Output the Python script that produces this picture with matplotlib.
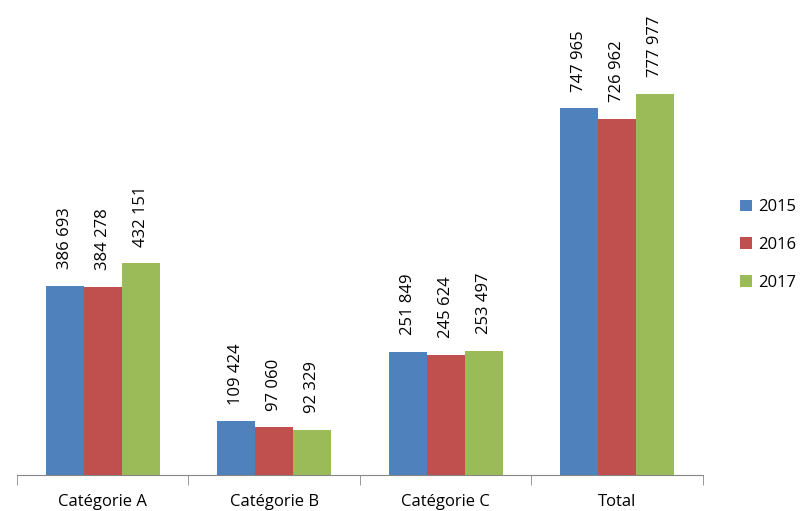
import numpy as np
import matplotlib.pyplot as plt

categories = ['Catégorie A', 'Catégorie B', 'Catégorie C', 'Total']
years = ['2015', '2016', '2017']
v2015 = [386693, 109424, 251849, 747965]
v2016 = [384278, 97060, 245624, 726962]
v2017 = [432151, 92329, 253497, 777977]
colors = ['#4F81BD', '#C0504D', '#9BBB59']

plt.rcParams['font.family'] = ['Open Sans', 'DejaVu Sans']

fig = plt.figure(figsize=(8.03, 5.11), dpi=100)
ax = fig.add_axes([17 / 803, 36 / 511, 686 / 803, 441 / 511])

x = np.arange(len(categories))
w = 0.222
for i, (vals, year) in enumerate(zip([v2015, v2016, v2017], years)):
    pos = x + (i - 1) * w
    ax.bar(pos, vals, width=w, color=colors[i], label=year)
    for p, v in zip(pos, vals):
        ax.annotate(f'{v:,}'.replace(',', ' '), (p, v), xytext=(0, 12),
                    textcoords='offset points', rotation=90,
                    ha='center', va='bottom', fontsize=12)

ax.set_xlim(-0.5, len(categories) - 0.5)
ax.set_ylim(0, 900000)
for s in ['top', 'right', 'left']:
    ax.spines[s].set_visible(False)
ax.spines['bottom'].set_color('#868686')
ax.set_yticks([])
ax.set_xticks(x)
ax.set_xticklabels(categories, fontsize=12)
ax.tick_params(axis='x', which='major', length=0, pad=14)
ax.set_xticks(np.arange(len(categories) + 1) - 0.5, minor=True)
ax.tick_params(axis='x', which='minor', length=7, color='#868686')

fig.legend(loc='center left', bbox_to_anchor=(740 / 803, 1 - 245 / 511),
           frameon=False, fontsize=12, handlelength=0.7, handleheight=0.7,
           handletextpad=0.4, labelspacing=1.3, borderpad=0,
           borderaxespad=0)

fig.savefig('out.png', dpi=100)
